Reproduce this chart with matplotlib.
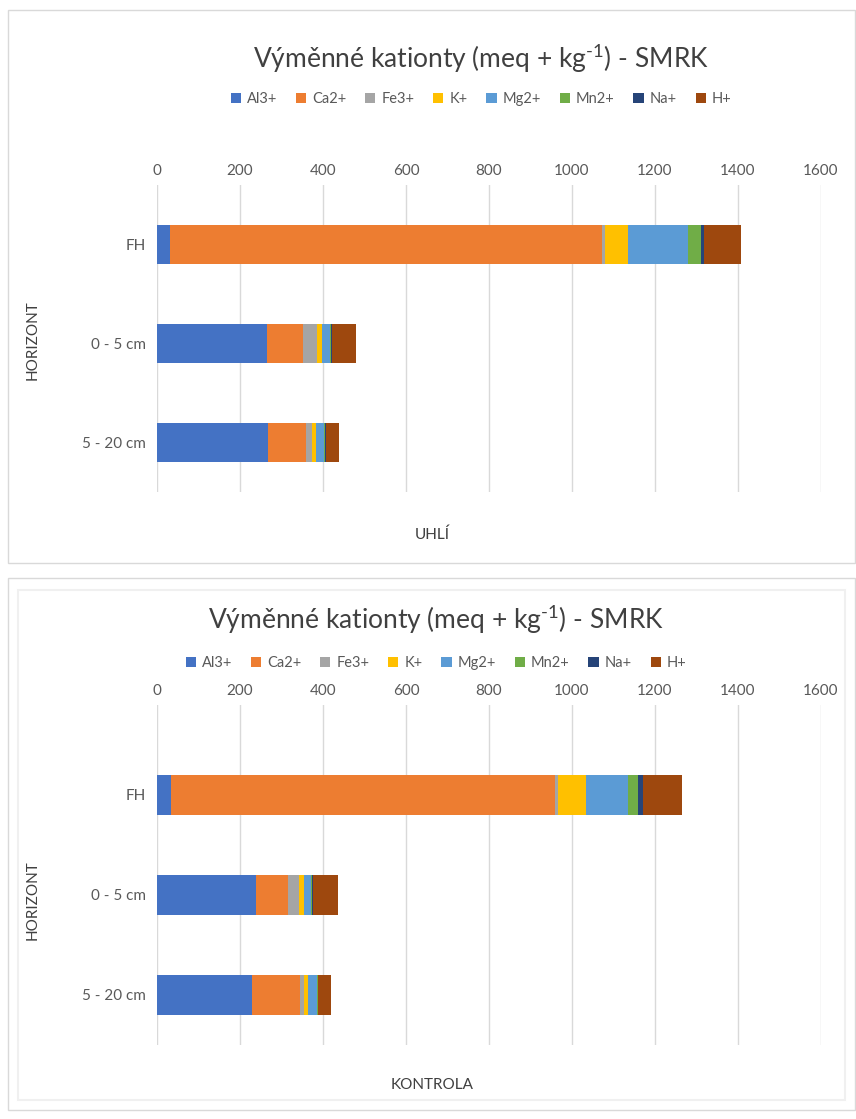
import matplotlib.pyplot as plt
import matplotlib.patches as patches
import numpy as np

plt.rcParams['font.family'] = ['Lato', 'DejaVu Sans']
plt.rcParams['mathtext.fontset'] = 'custom'
plt.rcParams['mathtext.rm'] = 'Lato'

horizons = ['FH', '0 - 5 cm', '5 - 20 cm']
cations = ['Al3+', 'Ca2+', 'Fe3+', 'K+', 'Mg2+', 'Mn2+', 'Na+', 'H+']
colors = ['#4472C4', '#ED7D31', '#A5A5A5', '#FFC000', '#5B9BD5', '#70AD47', '#264478', '#9E480E']

# values, one list per cation (FH, 0-5, 5-20)
uhli_al = [31, 265, 268]
uhli_ca = [1041, 86, 91]
uhli_fe = [7, 34, 14]
uhli_k = [55, 12, 11]
uhli_mg = [145, 21, 19]
uhli_mn = [31, 2, 3]
uhli_na = [8, 2, 1]
uhli_h = [89, 58, 32]

kontrola_al = [34, 238, 230]
kontrola_ca = [925, 77, 114]
kontrola_fe = [7, 28, 10]
kontrola_k = [67, 11, 10]
kontrola_mg = [103, 18, 21]
kontrola_mn = [24, 2, 2]
kontrola_na = [10, 3, 1]
kontrola_h = [94, 58, 31]

uhli = [uhli_al, uhli_ca, uhli_fe, uhli_k, uhli_mg, uhli_mn, uhli_na, uhli_h]
kontrola = [kontrola_al, kontrola_ca, kontrola_fe, kontrola_k, kontrola_mg, kontrola_mn, kontrola_na, kontrola_h]

W, H = 856, 1119
fig = plt.figure(figsize=(W / 100, H / 100), dpi=100)

def fx(px):
	return px / W

def fy(py):
	return 1 - py / H

# panel borders
fig.patches.append(patches.Rectangle((fx(8), fy(563)), fx(847) - fx(0), (563 - 10) / H, transform=fig.transFigure,
	fill=False, edgecolor='#D9D9D9', lw=1))
fig.patches.append(patches.Rectangle((fx(8), fy(1110)), fx(847) - fx(0), (1110 - 578) / H, transform=fig.transFigure,
	fill=False, edgecolor='#D9D9D9', lw=1))
fig.patches.append(patches.Rectangle((fx(18), fy(1100)), fx(827) - fx(0), (1100 - 590) / H, transform=fig.transFigure,
	fill=False, edgecolor='#F0F0F0', lw=1.5))

def draw(ax_rect, data, ylim, title_x, title_y, legend_y, xlabel, xlabel_y, ylabel_y):
	ax = fig.add_axes(ax_rect)
	y = np.arange(len(horizons))
	left = np.zeros(len(horizons))
	for name, vals, c in zip(cations, data, colors):
		ax.barh(y, vals, left=left, height=0.4, color=c, label=name, zorder=3)
		left += np.array(vals)
	ax.set_xlim(0, 1600)
	ax.set_xticks(np.arange(0, 1601, 200))
	ax.set_ylim(*ylim)
	ax.set_yticks(y)
	ax.set_yticklabels(horizons)
	ax.xaxis.tick_top()
	ax.tick_params(axis='both', length=0, labelsize=11, labelcolor='#595959')
	ax.tick_params(axis='x', pad=5)
	ax.tick_params(axis='y', pad=8)
	ax.grid(axis='x', color='#D9D9D9', lw=1, zorder=0)
	for s in ax.spines.values():
		s.set_visible(False)
	fig.text(fx(title_x), fy(title_y), r'Výměnné kationty (meq + kg$^{\mathrm{\text{-1}}}$) - SMRK', ha='center', va='center',
		fontsize=19, color='#404040')
	fig.legend(*ax.get_legend_handles_labels(), loc='center', bbox_to_anchor=(fx(title_x), fy(legend_y)), ncol=8,
		frameon=False, fontsize=10.5, handlelength=0.7, handleheight=0.7, handletextpad=0.4, columnspacing=1.3,
		labelcolor='#595959')
	fig.text(fx(33), fy(ylabel_y), 'HORIZONT', rotation=90, ha='center', va='center', fontsize=11, color='#404040')
	fig.text(fx(432), fy(xlabel_y), xlabel, ha='center', va='center', fontsize=11, color='#404040')
	return ax

draw([fx(157), fy(492), (821 - 157) / W, (492 - 185) / H], uhli, (2.5, -0.6), 481, 58, 99, 'UHLÍ', 535, 340)
draw([fx(157), fy(1045), (821 - 157) / W, (1045 - 705) / H], kontrola, (2.5, -0.9), 436, 619, 663, 'KONTROLA', 1085, 900)

plt.savefig('out.png', dpi=100)
